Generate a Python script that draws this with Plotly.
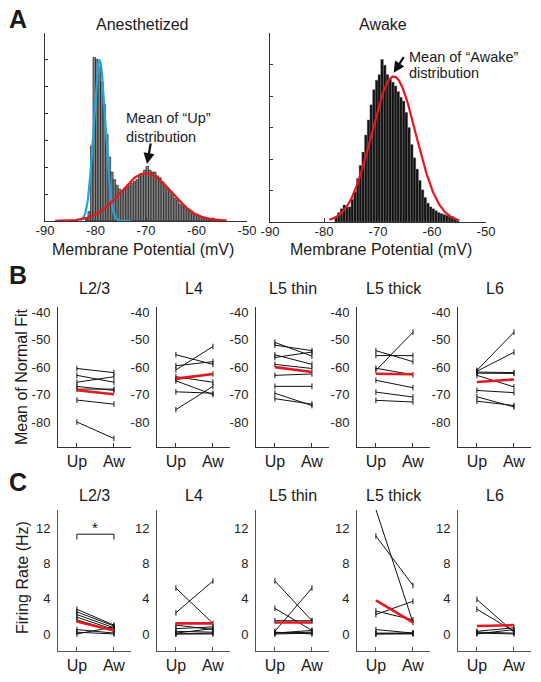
import numpy as np
import plotly.graph_objects as go

W, H = 541, 682
FONT = "Arial, 'Liberation Sans', Helvetica, sans-serif"

# ---------------- Panel A data ----------------
anes_bin_centers = [-81.75, -81.25, -80.75, -80.25, -79.75, -79.25, -78.75, -78.25, -77.75, -77.25,
                    -76.75, -76.25, -75.75, -75.25, -74.75, -74.25, -73.75, -73.25, -72.75, -72.25,
                    -71.75, -71.25, -70.75, -70.25, -69.75, -69.25, -68.75, -68.25, -67.75, -67.25,
                    -66.75, -66.25, -65.75, -65.25, -64.75, -64.25, -63.75, -63.25, -62.75, -62.25,
                    -61.75, -61.25, -60.75, -60.25, -59.75, -59.25, -58.75, -58.25, -57.75, -57.25,
                    -56.75, -56.25, -55.75, -55.25]
anes_counts = [7, 35, 280, 609, 602, 574, 518, 434, 322, 238,
               182, 154, 133, 119, 112, 119, 126, 133, 140, 147,
               154, 168, 175, 189, 203, 189, 182, 182, 168, 161,
               147, 133, 119, 112, 98, 84, 77, 63, 56, 56,
               42, 35, 28, 25, 21, 18, 14, 11, 7, 7,
               11, 7, 4, 4]

awake_bin_centers = [-77.75, -77.25, -76.75, -76.25, -75.75, -75.25, -74.75, -74.25, -73.75, -73.25,
                     -72.75, -72.25, -71.75, -71.25, -70.75, -70.25, -69.75, -69.25, -68.75, -68.25,
                     -67.75, -67.25, -66.75, -66.25, -65.75, -65.25, -64.75, -64.25, -63.75, -63.25,
                     -62.75, -62.25, -61.75, -61.25, -60.75, -60.25, -59.75, -59.25, -58.75, -58.25,
                     -57.75, -57.25, -56.75, -56.25, -55.75, -55.25]
awake_counts = [18, 30, 42, 54, 48, 48, 72, 96, 138, 180,
                222, 276, 324, 372, 420, 450, 468, 516, 498, 468,
                456, 444, 432, 414, 396, 384, 348, 300, 246, 204,
                168, 132, 102, 78, 60, 48, 42, 36, 30, 27,
                24, 21, 18, 18, 12, 6]

# Normal fits (mean, sd, peak height)
down_fit_mean, down_fit_sd, down_fit_peak = -79.2, 1.15, 598
up_fit_mean, up_fit_sd, up_fit_peak = -70.0, 5.0, 178
awake_fit_mean, awake_fit_sd, awake_fit_peak = -67.1, 4.1, 462

hist_ticks_mv = [-90, -80, -70, -60, -50]
anes_count_ticks = [0, 100, 200, 300, 400, 500, 600, 700]
awake_count_ticks = [0, 100, 200, 300, 400, 500, 600]

# ---------------- Panel B / C data ----------------
layers = ["L2/3", "L4", "L5 thin", "L5 thick", "L6"]
conditions = ["Up", "Aw"]

mean_up = {
    "L2/3": [-60.5, -63.0, -65.5, -67.0, -68.0, -72.0, -80.0],
    "L4": [-55.5, -59.5, -61.0, -63.5, -64.5, -65.0, -69.0, -75.5],
    "L5 thin": [-51.0, -52.0, -55.5, -56.5, -59.0, -63.0, -67.0, -69.5, -71.5],
    "L5 thick": [-54.0, -55.8, -61.2, -60.4, -64.8, -69.1, -72.1],
    "L6": [-61.2, -61.5, -61.8, -62.2, -63.0, -68.5, -70.8, -72.4],
}
mean_aw = {
    "L2/3": [-62.0, -65.5, -63.5, -68.5, -68.0, -73.5, -86.0],
    "L4": [-59.0, -58.0, -52.5, -65.5, -62.5, -70.0, -69.5, -67.0],
    "L5 thin": [-56.0, -54.0, -59.0, -54.5, -60.5, -62.5, -67.0, -74.0, -73.5],
    "L5 thick": [-58.0, -55.8, -47.3, -62.8, -67.5, -70.9, -72.7],
    "L6": [-47.3, -54.6, -62.0, -62.3, -67.2, -69.3, -74.5, -74.0],
}
mean_avg_up = [-68.4, -64.2, -60.0, -62.4, -65.4]
mean_avg_aw = [-69.9, -62.5, -61.8, -62.6, -64.5]

rate_up = {
    "L2/3": [2.8, 2.5, 2.2, 1.9, 1.6, 0.5, 0.2, 0.0],
    "L4": [5.2, 2.4, 1.0, 0.6, 0.3, 0.1, 0.0, 0.0],
    "L5 thin": [6.0, 2.9, 0.3, 1.5, 0.2, 0.1, 0.0, 0.1],
    "L5 thick": [14.1, 11.1, 2.2, 2.6, 0.5, 0.1, 0.0, 0.0],
    "L6": [3.9, 2.8, 0.3, 0.1, 0.2, 0.0],
}
rate_aw = {
    "L2/3": [1.0, 0.9, 0.7, 0.5, 0.3, 0.1, 0.0, 0.8],
    "L4": [1.2, 6.0, 0.5, 0.8, 0.2, 0.6, 0.1, 0.0],
    "L5 thin": [1.5, 0.4, 5.2, 1.5, 0.0, 0.4, 0.1, 0.2],
    "L5 thick": [1.3, 5.5, 3.7, 1.6, 0.1, 0.1, 0.0, 0.1],
    "L6": [0.2, 0.3, 0.7, 0.0, 0.1, 0.5],
}
rate_avg_up = [1.4, 1.2, 1.3, 3.8, 0.9]
rate_avg_aw = [0.4, 1.2, 1.3, 1.3, 1.0]

mean_ticks = [-40, -50, -60, -70, -80]
rate_ticks = [0, 4, 8, 12]
sig_bracket_top, sig_bracket_bottom = 11.3, 10.7

# ---------------- helpers ----------------
def xdom(l, r):
    return [l / W, r / W]

def ydom(t, b):
    return [1 - b / H, 1 - t / H]

def labels(vals):
    return [str(v) for v in vals]

RED = "#e8161e"
BLUE = "#1ea6e0"
AX = "#333333"

fig = go.Figure()
layout = dict(
    width=W, height=H, margin=dict(l=0, r=0, t=0, b=0, pad=0, autoexpand=False),
    autosize=False,
    paper_bgcolor="white", plot_bgcolor="white", showlegend=False,
    font=dict(family=FONT, color="#222222", size=13),
    barmode="overlay",
)

# ---- Panel A ----
def gauss(xs, m, s, p):
    xs = np.asarray(xs)
    return p * np.exp(-0.5 * ((xs - m) / s) ** 2)

fig.add_trace(go.Bar(x=anes_bin_centers, y=anes_counts, width=0.5,
                     marker=dict(color="#808080", line=dict(color="#111111", width=0.6)),
                     xaxis="x", yaxis="y"))
xs_down = np.linspace(-83, -73, 120)
fig.add_trace(go.Scatter(x=xs_down, y=gauss(xs_down, down_fit_mean, down_fit_sd, down_fit_peak),
                         mode="lines", line=dict(color=BLUE, width=2.2), xaxis="x", yaxis="y"))
xs_up = np.linspace(-88, -54, 200)
fig.add_trace(go.Scatter(x=xs_up, y=gauss(xs_up, up_fit_mean, up_fit_sd, up_fit_peak),
                         mode="lines", line=dict(color=RED, width=2.2), xaxis="x", yaxis="y"))

fig.add_trace(go.Bar(x=awake_bin_centers, y=awake_counts, width=0.5,
                     marker=dict(color="#111111", line=dict(color="#777777", width=0.4)),
                     xaxis="x2", yaxis="y2"))
xs_aw = np.linspace(-79, -55, 200)
fig.add_trace(go.Scatter(x=xs_aw, y=gauss(xs_aw, awake_fit_mean, awake_fit_sd, awake_fit_peak),
                         mode="lines", line=dict(color=RED, width=2.2), xaxis="x2", yaxis="y2"))

hist_x_common = dict(range=[-90, -50], tickvals=hist_ticks_mv, ticktext=labels(hist_ticks_mv),
                     ticks="inside", ticklen=4, automargin=False, ticklabelstandoff=-3,
                     tickcolor=AX, showline=True, linecolor=AX, linewidth=1, showgrid=False,
                     zeroline=False, tickfont=dict(size=13, color="#222222"))
layout["xaxis"] = dict(domain=xdom(45, 247), anchor="y", **hist_x_common)
layout["yaxis"] = dict(domain=ydom(33, 221), anchor="x", range=[0, 700], tickvals=anes_count_ticks,
                       showticklabels=False, ticks="inside", ticklen=3, tickcolor=AX, automargin=False,
                       showline=True, linecolor=AX, linewidth=1, showgrid=False, zeroline=False)
layout["xaxis2"] = dict(domain=xdom(270, 486), anchor="y2", **hist_x_common)
layout["yaxis2"] = dict(domain=ydom(33, 222), anchor="x2", range=[0, 600], tickvals=awake_count_ticks,
                        showticklabels=False, ticks="inside", ticklen=3, tickcolor=AX, automargin=False,
                        showline=True, linecolor=AX, linewidth=1, showgrid=False, zeroline=False)

annotations = []
shapes = []

def ann(text, x, y, size=16, bold=False, xanchor="center", yanchor="middle", angle=0):
    annotations.append(dict(text=("<b>%s</b>" % text) if bold else text, x=x / W, y=1 - y / H,
                            xref="paper", yref="paper", showarrow=False, xanchor=xanchor,
                            yanchor=yanchor, textangle=angle,
                            font=dict(size=size, family=FONT, color="#1a1a1a")))

ann("A", 18, 19, size=25, bold=True)
ann("Anesthetized", 142, 25)
ann("Awake", 383, 25)
ann("Membrane Potential (mV)", 143, 249)
ann("Membrane Potential (mV)", 381, 249)
ann("Mean of “Up”", 124, 118, size=14.5, xanchor="left")
ann("distribution", 124, 137, size=14.5, xanchor="left")
ann("Mean of “Awake”", 407, 57, size=14.5, xanchor="left")
ann("distribution", 407, 73, size=14.5, xanchor="left")

annotations.append(dict(x=up_fit_mean + 0.2, y=212, xref="x", yref="y", ax=4, ay=-22, text="",
                        showarrow=True, arrowhead=2, arrowsize=1, arrowwidth=2.2, arrowcolor="#111111"))
annotations.append(dict(x=awake_fit_mean, y=474, xref="x2", yref="y2", ax=11, ay=-17, text="",
                        showarrow=True, arrowhead=2, arrowsize=1, arrowwidth=2.2, arrowcolor="#111111"))

# ---- Panels B and C ----
panel_lefts = [58, 157, 256, 357, 458]
panel_w = 73
B_top, B_bot = 307, 447
C_top, C_bot = 510, 651

ann("B", 18, 275, size=25, bold=True)
ann("C", 18, 482, size=25, bold=True)
ann("Mean of Normal Fit", 22, 377, angle=-90)
ann("Firing Rate (Hz)", 22, 578, angle=-90)

def add_pair_panel(idx, up, aw, avg_up, avg_aw, axis_no, top, bot, yrange, yticks, axcolor):
    xa = "x%d" % axis_no
    ya = "y%d" % axis_no
    for u, a in zip(up, aw):
        fig.add_trace(go.Scatter(x=conditions, y=[u, a], mode="lines+markers", cliponaxis=False,
                                 line=dict(color="#111111", width=1),
                                 marker=dict(symbol="line-ns-open", size=4,
                                             line=dict(color="#111111", width=1)),
                                 xaxis=xa, yaxis=ya))
    fig.add_trace(go.Scatter(x=conditions, y=[avg_up, avg_aw], mode="lines", cliponaxis=False,
                             line=dict(color=RED, width=2.6), xaxis=xa, yaxis=ya))
    l = panel_lefts[idx]
    layout["xaxis%d" % axis_no] = dict(domain=xdom(l, l + panel_w), anchor=ya, type="category",
                                       categoryorder="array", categoryarray=conditions,
                                       range=[-0.51, 1.46], ticks="inside", ticklen=4,
                                       tickcolor=axcolor, showline=True, linecolor=axcolor,
                                       linewidth=1, showgrid=False, zeroline=False, automargin=False,
                                       tickfont=dict(size=16, color="#1a1a1a"))
    layout["yaxis%d" % axis_no] = dict(domain=ydom(top, bot), anchor=xa, range=yrange,
                                       tickvals=yticks, ticktext=labels(yticks), ticks="",
                                       showline=True, linecolor=axcolor, automargin=False,
                                       linewidth=1, showgrid=False, zeroline=False,
                                       ticklabelstandoff=4,
                                       tickfont=dict(size=13, color="#222222"))

for i, layer in enumerate(layers):
    add_pair_panel(i, mean_up[layer], mean_aw[layer], mean_avg_up[i], mean_avg_aw[i],
                   3 + i, B_top, B_bot, [-89.1, -38.1], mean_ticks, "#333333")
    ann(layer, panel_lefts[i] + panel_w / 2, 288)
for i, layer in enumerate(layers):
    add_pair_panel(i, rate_up[layer], rate_aw[layer], rate_avg_up[i], rate_avg_aw[i],
                   8 + i, C_top, C_bot, [-1.93, 14.04], rate_ticks, "#555555")
    ann(layer, panel_lefts[i] + panel_w / 2, 495)

# significance bracket in C L2/3
shapes.append(dict(type="path", xref="x8", yref="y8",
                   path="M 0,%s L 0,%s L 1,%s L 1,%s" % (sig_bracket_bottom, sig_bracket_top,
                                                         sig_bracket_top, sig_bracket_bottom),
                   line=dict(color="#111111", width=1)))
annotations.append(dict(text="*", x=0.5, y=sig_bracket_top, xref="x8", yref="y8", showarrow=False,
                        yanchor="bottom", yshift=-4, font=dict(size=15, family=FONT, color="#111111")))

layout["annotations"] = annotations
layout["shapes"] = shapes
fig.update_layout(**layout)
fig.write_html("out.html", config={"displayModeBar": False, "staticPlot": True},
               post_script="document.body.style.margin='0';document.body.style.overflow='hidden';")
